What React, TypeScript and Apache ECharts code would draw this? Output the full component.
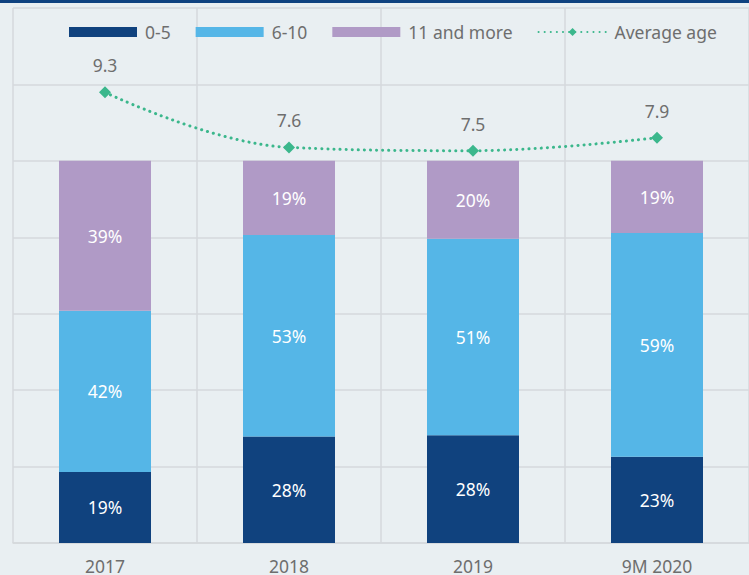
import React, { useEffect, useRef } from "react";
import * as echarts from "echarts";

const categories = ["2017", "2018", "2019", "9M 2020"];
const age0to5 = [18.6, 27.9, 28.2, 22.6];
const age6to10 = [42.2, 52.7, 51.4, 58.5];
const age11plus = [39.2, 19.4, 20.4, 18.9];
const averageAge = [9.3, 7.6, 7.5, 7.9];
const seriesNames = ["0-5", "6-10", "11 and more", "Average age"];

const FONT = "'Noto Sans', sans-serif";
const GRAY = "#6e6e6e";
const GRID = "#d5d9dc";

export default function App() {
  const ref = useRef<HTMLDivElement>(null);
  useEffect(() => {
    if (!ref.current) return;
    const chart = echarts.init(ref.current, null, { renderer: "svg" });
    const barLabel = {
      show: true,
      color: "#ffffff",
      fontSize: 17.5,
      fontFamily: FONT,
      formatter: (p: any) => Math.round(p.value) + "%",
    };
    chart.setOption({
      animation: false,
      backgroundColor: "#e9eff2",
      textStyle: { fontFamily: FONT },
      graphic: [
        {
          type: "rect",
          shape: { x: 0, y: 0, width: 749, height: 3 },
          style: { fill: "#0f4280" },
          z: 100,
        },
      ],
      legend: {
        left: 64,
        top: 18,
        itemWidth: 68,
        itemHeight: 10,
        itemGap: 25,
        textStyle: {
          color: GRAY,
          fontSize: 17.5,
          fontFamily: FONT,
          padding: [0, 0, 0, 3],
        },
        data: [
          { name: seriesNames[0], icon: "rect" },
          { name: seriesNames[1], icon: "rect" },
          { name: seriesNames[2], icon: "rect" },
          { name: seriesNames[3] },
        ],
      },
      grid: { left: 13, right: -4, top: 8, bottom: 31 },
      xAxis: {
        type: "category",
        data: categories,
        axisLine: { show: true, lineStyle: { color: GRID, width: 1.5 } },
        axisTick: { show: false },
        axisLabel: { color: GRAY, fontSize: 17.5, fontFamily: FONT, margin: 14 },
        splitLine: { show: true, lineStyle: { color: GRID, width: 1.5 } },
      },
      yAxis: [
        {
          type: "value",
          min: 0,
          max: 140,
          interval: 20,
          axisLabel: { show: false },
          axisLine: { show: false },
          axisTick: { show: false },
          splitLine: { show: true, lineStyle: { color: GRID, width: 1.5 } },
        },
        {
          type: "value",
          min: -4.6,
          max: 11.9,
          show: false,
          splitLine: { show: false },
        },
      ],
      series: [
        {
          name: seriesNames[0],
          type: "bar",
          stack: "total",
          barWidth: "50%",
          data: age0to5,
          itemStyle: { color: "#10427e" },
          label: barLabel,
        },
        {
          name: seriesNames[1],
          type: "bar",
          stack: "total",
          barWidth: "50%",
          data: age6to10,
          itemStyle: { color: "#55b6e7" },
          label: barLabel,
        },
        {
          name: seriesNames[2],
          type: "bar",
          stack: "total",
          barWidth: "50%",
          data: age11plus,
          itemStyle: { color: "#b09ac6" },
          label: barLabel,
        },
        {
          name: seriesNames[3],
          type: "line",
          yAxisIndex: 1,
          data: averageAge,
          smooth: 0.4,
          symbol: "diamond",
          symbolSize: 12,
          itemStyle: { color: "#3bb78c" },
          lineStyle: { color: "#3bb78c", width: 3, type: [0.1, 6], cap: "round" },
          label: {
            show: true,
            position: "top",
            distance: 12,
            color: GRAY,
            fontSize: 17.5,
            fontFamily: FONT,
            formatter: (p: any) => p.value.toFixed(1),
          },
          z: 10,
        },
      ],
    });
    return () => chart.dispose();
  }, []);
  return (
    <div
      ref={ref}
      style={{ position: "fixed", left: 0, top: 0, width: 749, height: 575 }}
    />
  );
}
